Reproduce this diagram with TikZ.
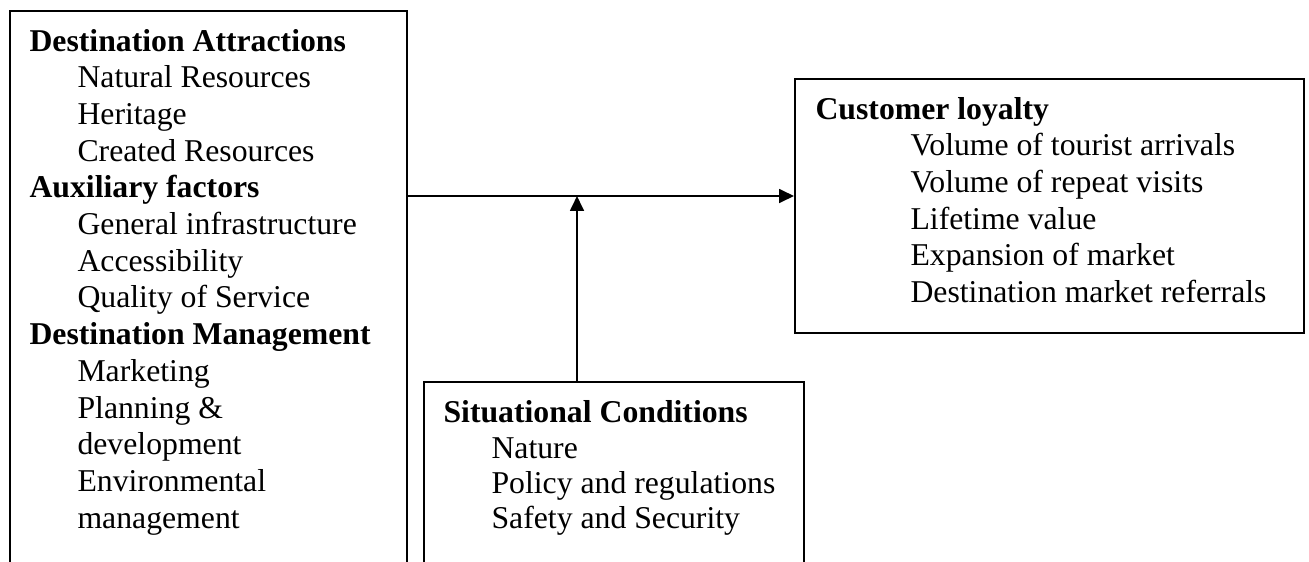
\documentclass[tikz,border=0pt]{standalone}
\usepackage{fontspec}
\setmainfont{Liberation Serif}
\usetikzlibrary{arrows.meta}
\begin{document}
\begin{tikzpicture}[x=0.375pt,y=-0.375pt,
  box/.style={draw,line width=0.75pt,rectangle,inner sep=0pt,anchor=north west},
  head/.style={anchor=base west,inner sep=0pt,font=\fontsize{11.9}{13.5}\selectfont\bfseries},
  item/.style={anchor=base west,inner sep=0pt,font=\fontsize{11.9}{13.5}\selectfont},
  arr/.style={line width=0.75pt,-{Triangle[length=5.6pt,width=5.2pt]}}]
\clip (0,0) rectangle (1309,561);
\useasboundingbox (0,0) rectangle (1309,561);
% boxes
\node[box,minimum width={397*0.375pt},minimum height={570*0.375pt}] (left) at (9,10) {};
\node[box,minimum width={509*0.375pt},minimum height={254*0.375pt}] (cust) at (794,78) {};
\node[box,minimum width={380*0.375pt},minimum height={199*0.375pt}] (sit) at (423,381) {};
% left box text
\node[head] (h1) at (29,51) {Destination Attractions};
\node[item] (a1) at (77,87.7) {Natural Resources};
\node[item] (a2) at (77,124.4) {Heritage};
\node[item] (a3) at (77,161.1) {Created Resources};
\node[head] (h2) at (29,197.8) {Auxiliary factors};
\node[item] (b1) at (77,234.5) {General infrastructure};
\node[item] (b2) at (77,271.2) {Accessibility};
\node[item] (b3) at (77,307.9) {Quality of Service};
\node[head] (h3) at (29,344.6) {Destination Management};
\node[item] (c1) at (77,381.3) {Marketing};
\node[item] (c2) at (77,418) {Planning \&};
\node[item] (c3) at (77,454.7) {development};
\node[item] (c4) at (77,491.4) {Environmental};
\node[item] (c5) at (77,528.1) {management};
% customer loyalty
\node[head] (h4) at (815,119) {Customer loyalty};
\node[item] (d1) at (910,155.7) {Volume of tourist arrivals};
\node[item] (d2) at (910,192.4) {Volume of repeat visits};
\node[item] (d3) at (910,229.1) {Lifetime value};
\node[item] (d4) at (910,265.8) {Expansion of market};
\node[item] (d5) at (910,302.5) {Destination market referrals};
% situational
\node[head] (h5) at (443,422.5) {Situational Conditions};
\node[item] (e1) at (491,458.3) {Nature};
\node[item] (e2) at (491,493.3) {Policy and regulations};
\node[item] (e3) at (491,528.3) {Safety and Security};
% connectors
\coordinate (j) at (577,196);
\draw[arr] (left.east |- j) -- (cust.west |- j);
\draw[arr] (sit.north -| j) -- (j);
\end{tikzpicture}
\end{document}
